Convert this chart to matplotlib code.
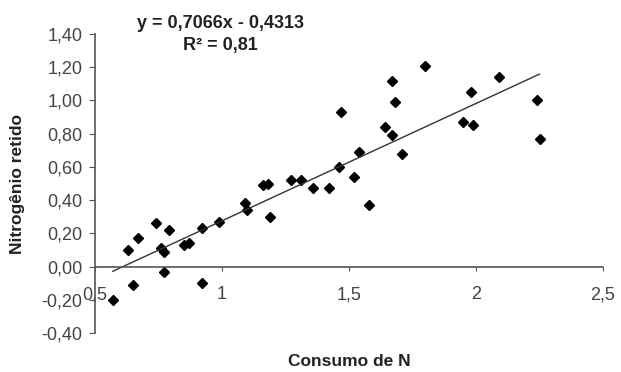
import numpy as np
import matplotlib
matplotlib.use('Agg')
import matplotlib.pyplot as plt

# consumo de N (x) e nitrogenio retido (y)
consumo = [0.57, 0.65, 0.63, 0.67, 0.74, 0.76, 0.77, 0.77, 0.79, 0.85,
           0.87, 0.92, 0.92, 0.99, 1.09, 1.10, 1.16, 1.18, 1.19, 1.27,
           1.31, 1.36, 1.42, 1.46, 1.47, 1.52, 1.54, 1.58, 1.64, 1.67,
           1.67, 1.68, 1.71, 1.80, 1.95, 1.98, 1.99, 2.09, 2.24, 2.25]
retido = [-0.20, -0.11, 0.10, 0.17, 0.26, 0.11, 0.09, -0.03, 0.22, 0.13,
          0.14, 0.23, -0.10, 0.27, 0.38, 0.34, 0.49, 0.50, 0.30, 0.52,
          0.52, 0.47, 0.47, 0.60, 0.93, 0.54, 0.69, 0.37, 0.84, 0.79,
          1.12, 0.99, 0.68, 1.21, 0.87, 1.05, 0.85, 1.14, 1.00, 0.77]

# regressao mostrada no grafico
slope = 0.7066
intercept = -0.4313
r2_text = 'R² = 0,81'
eq_text = 'y = 0,7066x - 0,4313'

xticks = [0.5, 1.0, 1.5, 2.0, 2.5]
xtick_labels = ['0,5', '1', '1,5', '2', '2,5']
yticks = [-0.40, -0.20, 0.00, 0.20, 0.40, 0.60, 0.80, 1.00, 1.20, 1.40]
ytick_labels = ['-0,40', '-0,20', '0,00', '0,20', '0,40', '0,60', '0,80',
                '1,00', '1,20', '1,40']

plt.rcParams['font.family'] = ['Liberation Sans', 'DejaVu Sans']

fig = plt.figure(figsize=(6.21, 3.72), dpi=100)
ax = fig.add_axes([95 / 621, 1 - 333 / 372, 508 / 621, 299 / 372])

# pontos
ax.plot(consumo, retido, 'D', color='black', markersize=5.5, linestyle='none')

# linha de tendencia
xl = np.array([min(consumo), max(consumo)])
ax.plot(xl, slope * xl + intercept, color='#333333', linewidth=1.0)

ax.set_xlim(0.5, 2.5)
ax.set_ylim(-0.40, 1.40)
ax.set_xticks(xticks)
ax.set_xticklabels(xtick_labels)
ax.set_yticks(yticks)
ax.set_yticklabels(ytick_labels)

# eixos estilo excel
ax.spines['top'].set_visible(False)
ax.spines['right'].set_visible(False)
ax.spines['bottom'].set_position(('data', 0))
for s in ['left', 'bottom']:
    ax.spines[s].set_color('#555555')
    ax.spines[s].set_linewidth(1.2)
ax.tick_params(axis='x', direction='out', length=3, pad=11, labelsize=13,
               colors='#555555', labelcolor='#444444')
ax.tick_params(axis='y', direction='out', length=4, pad=5, labelsize=13,
               colors='#555555', labelcolor='#444444')

ax.set_ylabel('Nitrogênio retido', fontsize=12.5, fontweight='bold', color='#222222')
ax.yaxis.set_label_coords(-0.138, 0.5)
ax.set_xlabel('Consumo de N', fontsize=12.5, fontweight='bold', color='#222222')
ax.xaxis.set_label_coords(0.5, -0.07)

ax.text(0.994, 1.465, eq_text, ha='center', va='center', fontsize=13,
        fontweight='bold', color='#222222', clip_on=False)
ax.text(0.994, 1.333, r2_text, ha='center', va='center', fontsize=13,
        fontweight='bold', color='#222222', clip_on=False)

fig.savefig('out.png', dpi=100)
